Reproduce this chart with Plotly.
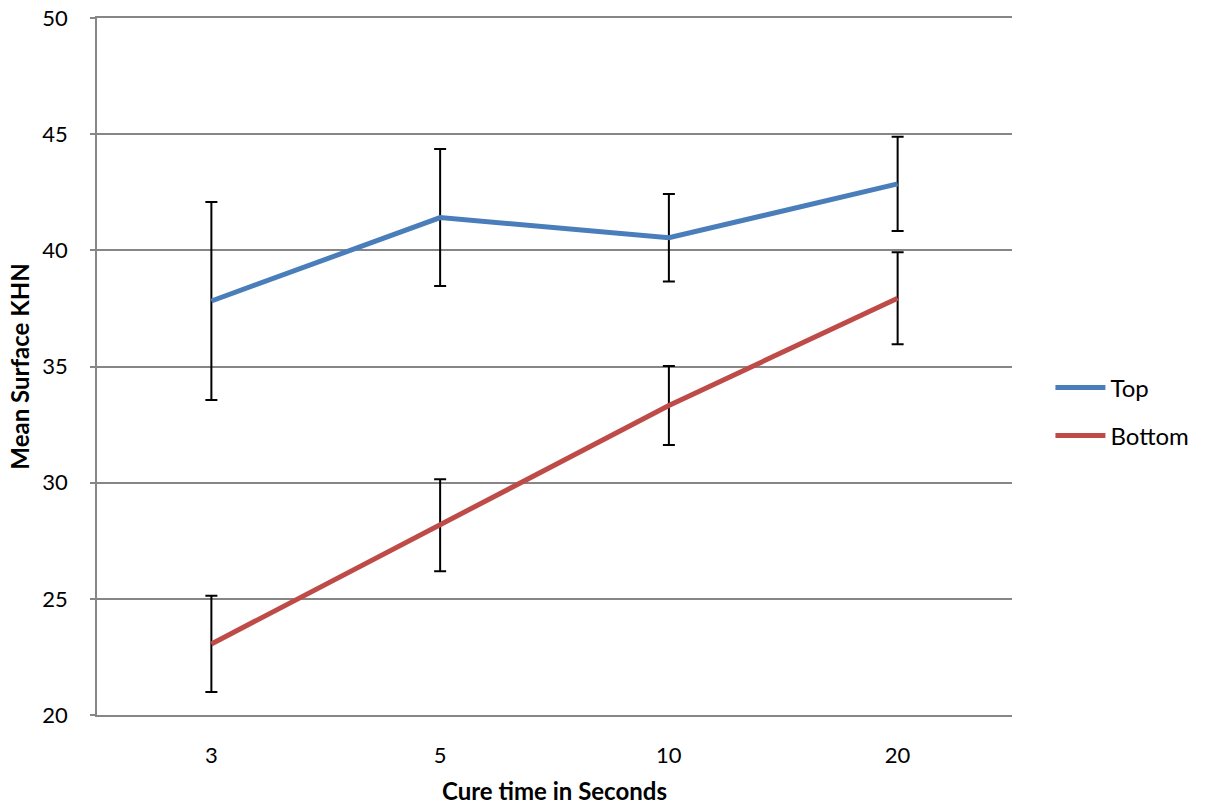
import plotly.graph_objects as go

categories = ["3", "5", "10", "20"]
top_mean = [37.82, 41.41, 40.54, 42.86]
top_err = [4.26, 2.95, 1.88, 2.03]
bottom_mean = [23.06, 28.17, 33.32, 37.94]
bottom_err = [2.07, 1.98, 1.70, 1.98]

FONT = "Lato"
GRID = "#868686"

fig = go.Figure()
fig.add_trace(go.Scatter(
    x=categories, y=top_mean, name="Top", mode="lines", legendgroup="top",
    line=dict(color="#4A7EBB", width=5),
    error_y=dict(type="data", array=top_err, visible=True, color="black", thickness=2, width=6),
))
fig.add_trace(go.Scatter(
    x=categories, y=bottom_mean, name="Bottom", mode="lines", legendgroup="bottom",
    line=dict(color="#BE4B48", width=5),
    error_y=dict(type="data", array=bottom_err, visible=True, color="black", thickness=2, width=6),
))

fig.update_layout(
    width=1212, height=810,
    margin=dict(l=97, r=200, t=18, b=95, autoexpand=False),
    paper_bgcolor="white", plot_bgcolor="white",
    font=dict(family=FONT, size=22, color="black"),
    legend=dict(x=1.042, y=0.435, xanchor="left", yanchor="middle",
                font=dict(family=FONT, size=24), tracegroupgap=14,
                itemwidth=50),
    xaxis=dict(
        type="category", range=[-0.5, 3.5],
        showgrid=False, showline=True, mirror=True,
        linecolor=GRID, linewidth=1.5, zeroline=False,
        ticks="", ticklabelstandoff=20, automargin=False,
        title=dict(text="<b>Cure time in Seconds</b>", standoff=16,
                   font=dict(family=FONT, size=24)),
    ),
    yaxis=dict(
        range=[20, 50], dtick=5,
        showgrid=True, gridcolor=GRID, gridwidth=1.5,
        showline=True, linecolor=GRID, linewidth=1.5,
        zeroline=False, automargin=False,
        ticks="outside", ticklen=5, tickcolor=GRID, tickwidth=1.5,
        ticklabelstandoff=18,
        title=dict(text="<b>Mean Surface KHN</b>", standoff=6,
                   font=dict(family=FONT, size=24)),
    ),
)

fig.write_html("out.html", post_script="document.body.style.margin='0';",
               config={"displayModeBar": False})
